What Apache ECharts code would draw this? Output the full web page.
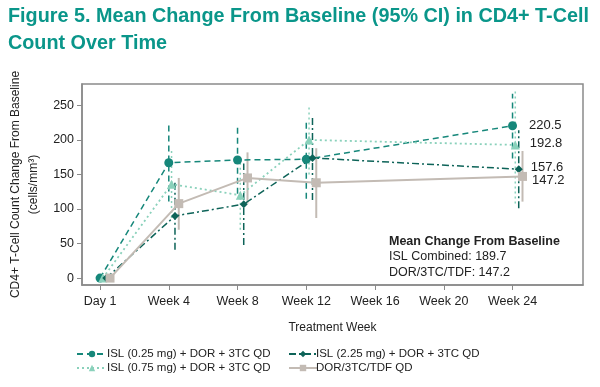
<!DOCTYPE html>
<html>
<head>
<meta charset="utf-8">
<script src="https://cdn.jsdelivr.net/npm/echarts@6/dist/echarts.min.js"></script>
<style>
html,body{margin:0;padding:0;background:#fff;}
#c{width:600px;height:387px;}
</style>
</head>
<body>
<div id="c"></div>
<script>
// ---- data ----
var weeks = [0, 4, 8, 12, 24];
var tickWeeks = [0, 4, 8, 12, 16, 20, 24];
var tickLabels = ['Day 1', 'Week 4', 'Week 8', 'Week 12', 'Week 16', 'Week 20', 'Week 24'];
var yTicks = [0, 50, 100, 150, 200, 250];
var seriesNames = ['ISL (0.25 mg) + DOR + 3TC QD', 'ISL (0.75 mg) + DOR + 3TC QD', 'ISL (2.25 mg) + DOR + 3TC QD', 'DOR/3TC/TDF QD'];
var isl025Mean = [0, 167, 171, 172, 220.5];
var isl025Lo   = [0, 111, 122, 115, 173];
var isl025Hi   = [0, 223, 220.5, 229, 267];
var isl075Mean = [0, 136, 120, 200, 192.8];
var isl075Lo   = [0, 87, 70, 150, 108];
var isl075Hi   = [0, 185, 170, 250, 270];
var isl225Mean = [0, 90, 107, 174, 157.6];
var isl225Lo   = [0, 41, 48, 113, 101];
var isl225Hi   = [0, 139, 166, 234, 214];
var dorMean    = [0, 107.8, 145, 138, 147.2];
var dorLo      = [0, 70, 108, 87, 110.7];
var dorHi      = [0, 145, 182, 188, 184];
var endLabels  = ['220.5', '192.8', '157.6', '147.2'];
var boxTitle = 'Mean Change From Baseline';
var boxLines = ['ISL Combined: 189.7', 'DOR/3TC/TDF: 147.2'];

// ---- styles ----
var FONT = 'Liberation Sans, Arial, sans-serif';
var colors = ['#16877a', '#8ad1bb', '#0d6358', '#c3bbb4'];
var dodge = [0, 0.16, 0.36, 0.58];
var dashes = [[6, 4], [2, 3], [7, 3, 2, 3], 'solid'];
var widths = [1.5, 1.8, 1.5, 2];
var symbols = ['circle', 'triangle', 'diamond', 'rect'];
var symSizes = [9, 9, 8, 9];
var labelOffsets = [[8, 0], [6, -1.5], [4, -2], [1, 4.5]];

var means = [isl025Mean, isl075Mean, isl225Mean, dorMean];
var los = [isl025Lo, isl075Lo, isl225Lo, dorLo];
var his = [isl025Hi, isl075Hi, isl225Hi, dorHi];

var series = [];
for (var s = 0; s < 4; s++) {
  (function (s) {
    var ci = [];
    for (var i = 0; i < weeks.length; i++) {
      if (his[s][i] > los[s][i]) ci.push([weeks[i] + dodge[s], los[s][i], his[s][i]]);
    }
    series.push({
      type: 'custom',
      name: seriesNames[s] + '_ci',
      silent: true,
      z: 1,
      data: ci,
      renderItem: function (params, api) {
        var p1 = api.coord([api.value(0), api.value(1)]);
        var p2 = api.coord([api.value(0), api.value(2)]);
        return {
          type: 'line',
          shape: { x1: p1[0], y1: p1[1], x2: p2[0], y2: p2[1] },
          style: { stroke: colors[s], lineWidth: s === 3 ? 2 : 1.5, lineDash: dashes[s] === 'solid' ? null : dashes[s] }
        };
      }
    });
    var pts = weeks.map(function (w, i) {
      var d = { value: [w + dodge[s], means[s][i]] };
      if (i === weeks.length - 1) {
        d.label = {
          show: true, position: 'right', distance: labelOffsets[s][0] + 4,
          offset: [0, labelOffsets[s][1]],
          formatter: endLabels[s], color: '#222', fontSize: 13, fontFamily: FONT
        };
      }
      return d;
    });
    series.push({
      type: 'line',
      name: seriesNames[s],
      z: 3,
      data: pts,
      symbol: symbols[s],
      symbolSize: symSizes[s],
      showSymbol: true,
      itemStyle: { color: colors[s] },
      lineStyle: { color: colors[s], width: widths[s], type: dashes[s] },
      label: { show: false },
      animation: false
    });
  })(s);
}

var chart = echarts.init(document.getElementById('c'), null, { renderer: 'canvas' });
chart.setOption({
  animation: false,
  backgroundColor: '#fff',
  title: {
    text: 'Figure 5. Mean Change From Baseline (95% CI) in CD4+ T-Cell\nCount Over Time',
    left: 3, top: -2,
    textStyle: { color: '#0a968a', fontSize: 19.8, fontWeight: 'bold', fontFamily: FONT, lineHeight: 27 }
  },
  grid: { left: 82, top: 84, right: 17, bottom: 102, show: true, borderColor: '#8a8a8a', borderWidth: 1.5, containLabel: false, outerBoundsMode: 'none' },
  xAxis: {
    type: 'value', min: -1.05, max: 28.1,
    name: 'Treatment Week', nameLocation: 'middle', nameGap: 37,
    nameTextStyle: { color: '#222', fontSize: 12, fontFamily: FONT },
    splitLine: { show: false },
    axisLine: { show: true, onZero: false, lineStyle: { color: '#8a8a8a', width: 1.5 } },
    axisTick: { show: true, customValues: tickWeeks, length: 5, lineStyle: { color: '#8a8a8a' } },
    axisLabel: {
      customValues: tickWeeks, color: '#222', fontSize: 12.5, fontFamily: FONT, margin: 10,
      formatter: function (v) { var i = tickWeeks.indexOf(v); return i >= 0 ? tickLabels[i] : ''; }
    }
  },
  yAxis: {
    type: 'value', min: -10, max: 281,
    name: 'CD4+ T-Cell Count Change From Baseline\n(cells/mm³)', nameLocation: 'middle', nameGap: 38,
    nameTextStyle: { color: '#222', fontSize: 12, fontFamily: FONT, lineHeight: 18 },
    splitLine: { show: false },
    axisLine: { show: true, onZero: false, lineStyle: { color: '#8a8a8a', width: 1.5 } },
    axisTick: { show: true, customValues: yTicks, length: 5, lineStyle: { color: '#8a8a8a' } },
    axisLabel: { customValues: yTicks, color: '#222', fontSize: 12.5, fontFamily: FONT, margin: 8 }
  },
  legend: [
    {
      left: 71, top: 343, orient: 'vertical', itemGap: 2, itemWidth: 30, itemHeight: 8,
      data: [seriesNames[0], seriesNames[1]],
      textStyle: { color: '#222', fontSize: 11.5, fontFamily: FONT, padding: [0, 0, 0, -5] }
    },
    {
      left: 283, top: 343, orient: 'vertical', itemGap: 2, itemWidth: 28, itemHeight: 8,
      data: [seriesNames[2], seriesNames[3]],
      textStyle: { color: '#222', fontSize: 11.5, fontFamily: FONT, padding: [0, 0, 0, -6] }
    }
  ],
  graphic: [
    {
      type: 'group', left: 389, top: 235,
      children: [
        { type: 'text', x: 0, y: 0, style: { text: boxTitle, fill: '#222', font: 'bold 12.5px ' + FONT } },
        { type: 'text', x: 0, y: 15, style: { text: boxLines[0], fill: '#222', font: '12.5px ' + FONT } },
        { type: 'text', x: 0, y: 31, style: { text: boxLines[1], fill: '#222', font: '12.5px ' + FONT } }
      ]
    }
  ],
  series: series
});
</script>
</body>
</html>
